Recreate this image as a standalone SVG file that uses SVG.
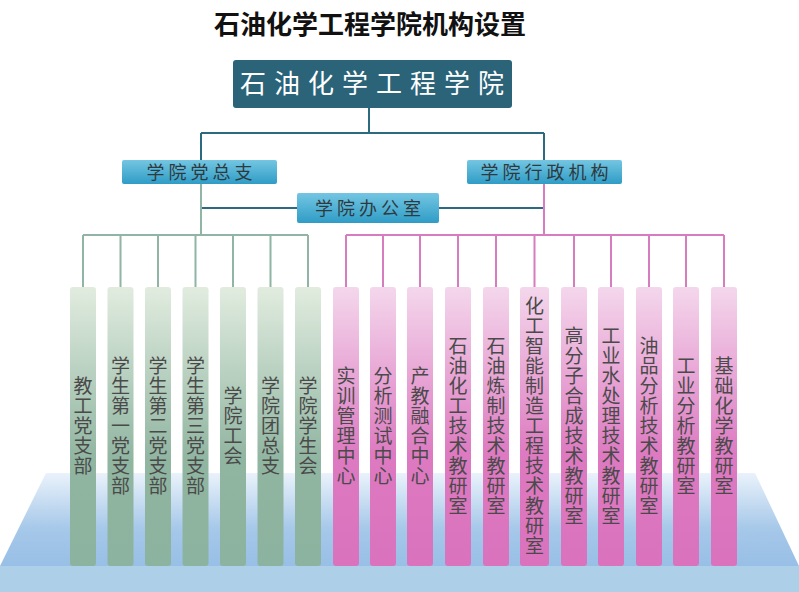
<svg xmlns="http://www.w3.org/2000/svg" width="799" height="592" viewBox="0 0 799 592">
<defs>
<linearGradient id="gPlat" x1="0" y1="0" x2="0" y2="1">
<stop offset="0" stop-color="#eaf2fb"/>
<stop offset="0.6" stop-color="#a6c8e9"/>
<stop offset="1" stop-color="#98bfe6"/>
</linearGradient>
<linearGradient id="gGreen" x1="0" y1="0" x2="0" y2="1">
<stop offset="0" stop-color="#e1ecdf"/>
<stop offset="0.62" stop-color="#90b5a1"/>
<stop offset="1" stop-color="#8cb39f"/>
</linearGradient>
<linearGradient id="gPink" x1="0" y1="0" x2="0" y2="1">
<stop offset="0" stop-color="#f4d7ec"/>
<stop offset="0.6" stop-color="#dd7ac1"/>
<stop offset="1" stop-color="#da72bd"/>
</linearGradient>
<linearGradient id="gBlue" x1="0" y1="0" x2="0" y2="1">
<stop offset="0" stop-color="#74c6e2"/>
<stop offset="1" stop-color="#2f9cc6"/>
</linearGradient>
</defs>
<style>
.title{font-family:"Noto Sans CJK SC","Liberation Sans",sans-serif;font-weight:bold;font-size:26px;fill:#111;}
.top{font-family:"Noto Sans CJK SC",sans-serif;font-size:26px;fill:#fff;letter-spacing:8px;}
.mid{font-family:"Noto Sans CJK SC",sans-serif;font-size:18px;fill:#2e3a40;letter-spacing:4px;}
.col{font-family:"Noto Sans CJK SC",sans-serif;font-size:19px;fill:#4a4a4a;writing-mode:vertical-rl;text-orientation:upright;letter-spacing:1px;text-anchor:middle;}
.lt{stroke:#2c6a80;stroke-width:2;fill:none;}
.lg{stroke:#90b5a5;stroke-width:2;fill:none;}
.lp{stroke:#d67cbf;stroke-width:2;fill:none;}
.cg{fill:url(#gGreen);}
.cp{fill:url(#gPink);}
.bx{fill:url(#gBlue);}
</style>
<polygon points="46,473 755,473 799,566 0,566" fill="url(#gPlat)"/>
<rect x="0" y="566" width="799" height="26" fill="#add0e8"/>
<text class="title" x="370" y="34" text-anchor="middle">石油化学工程学院机构设置</text>
<g id="connectors">
<path class="lt" d="M369,108 V133 M201,133 H544 M201,133 V160 M544,133 V160 M201,208 H297 M439,208 H544"/>
<path class="lg" d="M201,184 V235 M83,235 H308 M83,235 V287 M120.5,235 V287 M158,235 V287 M195.5,235 V287 M233,235 V287 M270.5,235 V287 M308,235 V287"/>
<path class="lp" d="M544,184 V235 M346,235 H724 M346,235 V287 M383,235 V287 M420,235 V287 M458,235 V287 M496,235 V287 M534.5,235 V287 M574,235 V287 M611,235 V287 M649,235 V287 M686,235 V287 M724,235 V287"/>
</g>
<g id="n-root"><rect x="233" y="60" width="279" height="48" rx="3" fill="#2b6479"/><text class="top" x="376" y="93" text-anchor="middle">石油化学工程学院</text></g>
<g id="n-party"><rect class="bx" x="122" y="160" width="155" height="24" rx="2"/><text class="mid" x="201.5" y="179" text-anchor="middle">学院党总支</text></g>
<g id="n-admin"><rect class="bx" x="467" y="160" width="155" height="24" rx="2"/><text class="mid" x="546.5" y="179" text-anchor="middle">学院行政机构</text></g>
<g id="n-office"><rect class="bx" x="297" y="193" width="142" height="30" rx="2"/><text class="mid" x="370" y="215" text-anchor="middle">学院办公室</text></g>
<g id="g1"><rect class="cg" x="70" y="287" width="26" height="279" rx="3"/><text class="col" x="83" y="426">教工党支部</text></g>
<g id="g2"><rect class="cg" x="107.5" y="287" width="26" height="279" rx="3"/><text class="col" x="120.5" y="426">学生第一党支部</text></g>
<g id="g3"><rect class="cg" x="145" y="287" width="26" height="279" rx="3"/><text class="col" x="158" y="426">学生第二党支部</text></g>
<g id="g4"><rect class="cg" x="182.5" y="287" width="26" height="279" rx="3"/><text class="col" x="195.5" y="426">学生第三党支部</text></g>
<g id="g5"><rect class="cg" x="220" y="287" width="26" height="279" rx="3"/><text class="col" x="233" y="426">学院工会</text></g>
<g id="g6"><rect class="cg" x="257.5" y="287" width="26" height="279" rx="3"/><text class="col" x="270.5" y="426">学院团总支</text></g>
<g id="g7"><rect class="cg" x="295" y="287" width="26" height="279" rx="3"/><text class="col" x="308" y="426">学院学生会</text></g>
<g id="p1"><rect class="cp" x="333" y="287" width="26" height="279" rx="3"/><text class="col" x="346" y="426">实训管理中心</text></g>
<g id="p2"><rect class="cp" x="370" y="287" width="26" height="279" rx="3"/><text class="col" x="383" y="426">分析测试中心</text></g>
<g id="p3"><rect class="cp" x="407" y="287" width="26" height="279" rx="3"/><text class="col" x="420" y="426">产教融合中心</text></g>
<g id="p4"><rect class="cp" x="445" y="287" width="26" height="279" rx="3"/><text class="col" x="458" y="426">石油化工技术教研室</text></g>
<g id="p5"><rect class="cp" x="483" y="287" width="26" height="279" rx="3"/><text class="col" x="496" y="426">石油炼制技术教研室</text></g>
<g id="p6"><rect class="cp" x="520" y="287" width="29" height="279" rx="3"/><text class="col" x="534.5" y="426">化工智能制造工程技术教研室</text></g>
<g id="p7"><rect class="cp" x="561" y="287" width="26" height="279" rx="3"/><text class="col" x="574" y="426">高分子合成技术教研室</text></g>
<g id="p8"><rect class="cp" x="598" y="287" width="26" height="279" rx="3"/><text class="col" x="611" y="426">工业水处理技术教研室</text></g>
<g id="p9"><rect class="cp" x="636" y="287" width="26" height="279" rx="3"/><text class="col" x="649" y="426">油品分析技术教研室</text></g>
<g id="p10"><rect class="cp" x="673" y="287" width="26" height="279" rx="3"/><text class="col" x="686" y="426">工业分析教研室</text></g>
<g id="p11"><rect class="cp" x="711" y="287" width="26" height="279" rx="3"/><text class="col" x="724" y="426">基础化学教研室</text></g>
</svg>
